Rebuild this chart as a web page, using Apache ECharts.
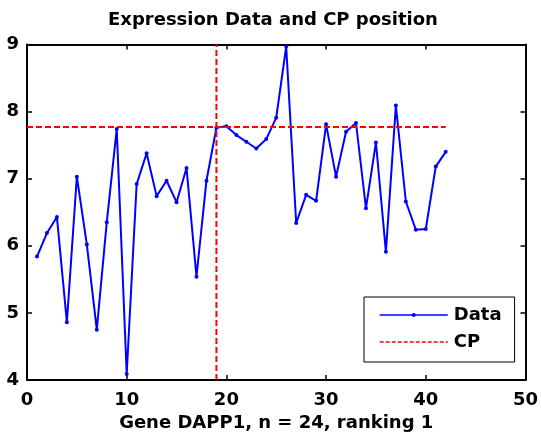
<!DOCTYPE html>
<html>
<head>
<meta charset="utf-8">
<script src="https://cdn.jsdelivr.net/npm/echarts@6/dist/echarts.min.js"></script>
<style>
  html, body { margin: 0; padding: 0; background: #fff; }
  #chart { width: 541px; height: 442px; }
</style>
</head>
<body>
<div id="chart"></div>
<script>
// Sample indices and expression values for gene DAPP1
const sampleIndex = [1, 2, 3, 4, 5, 6, 7, 8, 9, 10, 11, 12, 13, 14, 15, 16, 17, 18, 19, 20, 21,
  22, 23, 24, 25, 26, 27, 28, 29, 30, 31, 32, 33, 34, 35, 36, 37, 38, 39, 40, 41, 42];
const expression = [5.84, 6.19, 6.43, 4.86, 7.03, 6.02, 4.75, 6.35, 7.74, 4.09, 6.92, 7.38,
  6.74, 6.97, 6.65, 7.16, 5.54, 6.97, 7.76, 7.78, 7.65, 7.55, 7.45, 7.59, 7.91, 8.97,
  6.34, 6.76, 6.67, 7.81, 7.03, 7.70, 7.83, 6.56, 7.54, 5.91, 8.09, 6.66, 6.24, 6.25,
  7.18, 7.40];

// Change point: position along the samples and its level
const cpPosition = 19;
const cpLevel = 7.77;
const cpLevelSpan = [0, 42];

// Axis ranges and ticks
const xRange = [0, 50];
const xStep = 10;
const yRange = [4, 9];
const yStep = 1;

const FONT = '"DejaVu Sans", sans-serif';

const dataPoints = sampleIndex.map((x, i) => [x, expression[i]]);

const chart = echarts.init(document.getElementById('chart'), null, { renderer: 'canvas' });

const frameLine = { show: true, onZero: false, lineStyle: { color: '#000', width: 2 } };
const innerTick = { show: true, inside: true, length: 5, lineStyle: { color: '#000', width: 1.5 } };

const cpStyle = { color: '#ff0000', width: 2, type: [6, 3] };

chart.setOption({
  animation: false,
  backgroundColor: '#fff',
  title: {
    text: 'Expression Data and CP position',
    left: 103,
    top: 6,
    textStyle: { fontFamily: FONT, fontWeight: 'bold', fontSize: 18, color: '#000' }
  },
  grid: { left: 27, right: 12, top: 44.5, bottom: 62, containLabel: false },
  legend: {
    data: [
      { name: 'Data', itemStyle: { color: '#0000ff', borderWidth: 0 }, lineStyle: { width: 1.5 } },
      { name: 'CP', itemStyle: { opacity: 0 }, lineStyle: { type: [4, 2], width: 1.5 } }
    ],
    orient: 'vertical',
    left: 364,
    top: 297,
    padding: [9, 13, 11, 15],
    itemWidth: 68,
    itemHeight: 5,
    itemGap: 9,
    backgroundColor: '#fff',
    borderColor: '#000',
    borderWidth: 1,
    borderRadius: 0,
    textStyle: {
      fontFamily: FONT, fontWeight: 'bold', fontSize: 18, lineHeight: 18,
      color: '#000', padding: [0, 0, 0, 1]
    }
  },
  xAxis: [
    {
      type: 'value', position: 'bottom', min: xRange[0], max: xRange[1], interval: xStep,
      axisLine: frameLine, axisTick: innerTick, splitLine: { show: false },
      axisLabel: { fontFamily: FONT, fontWeight: 'bold', fontSize: 18, color: '#000', margin: 11 },
      name: 'Gene DAPP1, n = 24, ranking 1',
      nameLocation: 'middle',
      nameGap: 30,
      nameTextStyle: { fontFamily: FONT, fontWeight: 'bold', fontSize: 18, color: '#000' }
    },
    {
      type: 'value', position: 'top', min: xRange[0], max: xRange[1], interval: xStep,
      axisLine: frameLine, axisTick: innerTick, splitLine: { show: false },
      axisLabel: { show: false }
    }
  ],
  yAxis: [
    {
      type: 'value', position: 'left', min: yRange[0], max: yRange[1], interval: yStep,
      axisLine: frameLine, axisTick: innerTick, splitLine: { show: false },
      axisLabel: { fontFamily: FONT, fontWeight: 'bold', fontSize: 18, color: '#000', margin: 8 }
    },
    {
      type: 'value', position: 'right', min: yRange[0], max: yRange[1], interval: yStep,
      axisLine: frameLine, axisTick: innerTick, splitLine: { show: false },
      axisLabel: { show: false }
    }
  ],
  series: [
    {
      name: 'Data',
      type: 'line',
      xAxisIndex: 0,
      yAxisIndex: 0,
      data: dataPoints,
      symbol: 'circle',
      symbolSize: 4,
      showSymbol: true,
      itemStyle: { color: '#0000ff' },
      lineStyle: { color: '#0000ff', width: 2 },
      z: 3
    },
    {
      name: 'CP',
      type: 'line',
      xAxisIndex: 0,
      yAxisIndex: 0,
      data: [[cpPosition, yRange[0]], [cpPosition, yRange[1]]],
      symbol: 'none',
      itemStyle: { color: '#ff0000' },
      lineStyle: cpStyle,
      z: 4
    },
    {
      name: 'CP',
      type: 'line',
      xAxisIndex: 0,
      yAxisIndex: 0,
      data: [[cpLevelSpan[0], cpLevel], [cpLevelSpan[1], cpLevel]],
      symbol: 'none',
      itemStyle: { color: '#ff0000' },
      lineStyle: cpStyle,
      z: 4
    }
  ]
});
</script>
</body>
</html>
